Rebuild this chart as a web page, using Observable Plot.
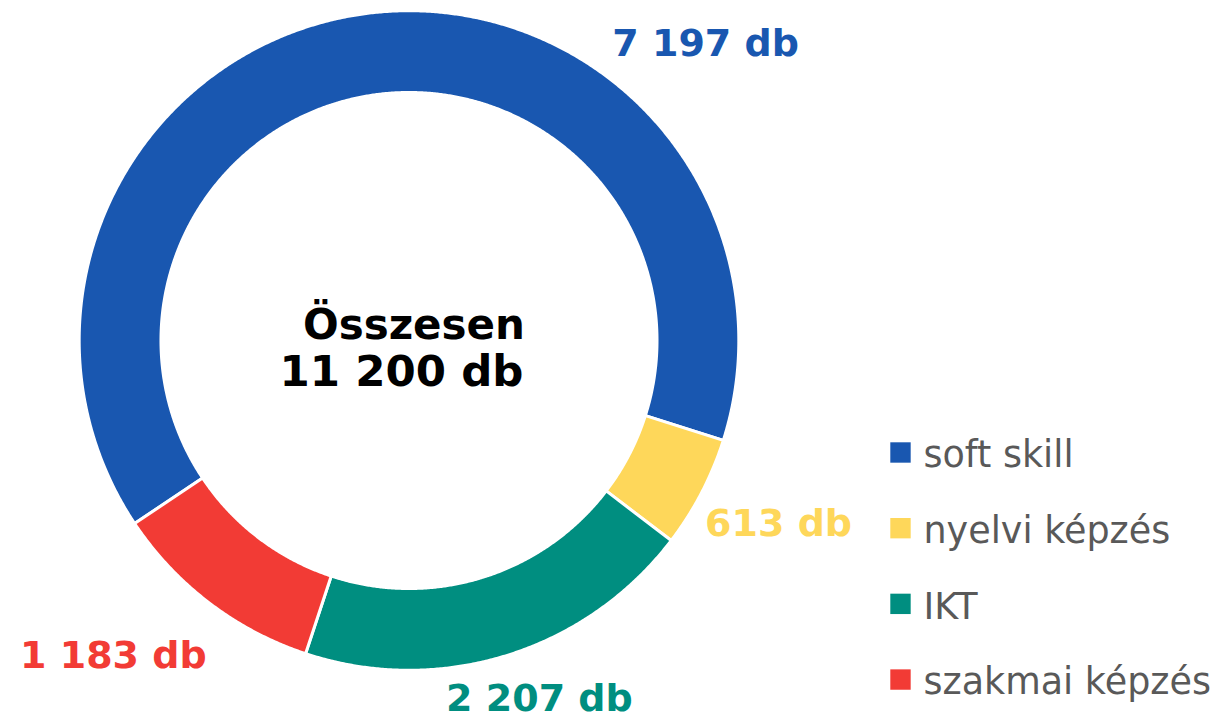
<!DOCTYPE html>
<html>
<head>
<meta charset="utf-8">
<script src="https://cdn.jsdelivr.net/npm/d3@7"></script>
<script src="https://cdn.jsdelivr.net/npm/@observablehq/plot@0.6"></script>
<style>
  html, body { margin: 0; padding: 0; background: #fff; }
  #chart svg { display: block; }
</style>
</head>
<body>
<div id="chart"></div>
<script>
// ---- Data ----
const categories = ["soft skill", "nyelvi képzés", "IKT", "szakmai képzés"];
const values = [7197, 613, 2207, 1183];
const colors = ["#1957B0", "#FED75A", "#008E80", "#F23B35"];
const unit = "db";
const totalLabel = "Összesen";

// ---- Layout (in donut-radius units; 1 unit = outer radius) ----
const startDeg = 236.3;          // first slice angle, clockwise from 12 o'clock
const rOuter = 1.004, rInner = 0.755;
// label anchor points per category (manually placed like in the original)
const labelPos = [
  [0.903, 0.904],
  [1.125, -0.557],
  [0.397, -1.092],
  [-0.900, -0.959]
];
const xDomain = [-1.2435, 2.4673];
const yDomain = [-1.1598, 1.0350];

const fmt = d3.formatLocale({thousands: " ", grouping: [3], decimal: ","}).format(",");
const total = d3.sum(values);

const start = startDeg * Math.PI / 180;
const arcs = d3.pie().sort(null).startAngle(start).endAngle(start + 2 * Math.PI)(values);

// polygon outline for each ring segment
const ringPts = [];
arcs.forEach((a, i) => {
  const n = Math.max(8, Math.ceil((a.endAngle - a.startAngle) / 0.005));
  for (let k = 0; k <= n; k++) {
    const t = a.startAngle + (a.endAngle - a.startAngle) * k / n;
    ringPts.push({cat: categories[i], x: rOuter * Math.sin(t), y: rOuter * Math.cos(t)});
  }
  for (let k = n; k >= 0; k--) {
    const t = a.startAngle + (a.endAngle - a.startAngle) * k / n;
    ringPts.push({cat: categories[i], x: rInner * Math.sin(t), y: rInner * Math.cos(t)});
  }
});

const valueLabels = categories.map((c, i) => ({
  cat: c, x: labelPos[i][0], y: labelPos[i][1], text: `${fmt(values[i])} ${unit}`
}));

const legendRows = categories.map((c, i) => ({cat: c, i}));
const legX = 1.4962, legTextX = 1.5662, legY0 = -0.3409, legStep = 0.2304;

const chart = Plot.plot({
  width: 1219,
  height: 721,
  margin: 0,
  style: {fontFamily: "DejaVu Sans, Verdana, sans-serif", background: "#fff"},
  x: {domain: xDomain, axis: null},
  y: {domain: yDomain, axis: null},
  color: {domain: categories, range: colors},
  marks: [
    Plot.line(ringPts, {
      x: "x", y: "y", z: "cat", fill: "cat",
      stroke: "white", strokeWidth: 3, curve: "linear-closed"
    }),
    Plot.text(valueLabels, {
      x: "x", y: "y", text: "text", fill: "cat",
      fontSize: 38, fontWeight: "bold", textAnchor: "middle"
    }),
    Plot.text([totalLabel], {
      x: [0.0152], y: [0.0457], text: d => d,
      fontSize: 42, fontWeight: "bold", fill: "black"
    }),
    Plot.text([`${fmt(total)} ${unit}`], {
      x: [-0.0228], y: [-0.0974], text: d => d,
      fontSize: 43.5, fontWeight: "bold", fill: "black"
    }),
    Plot.dot(legendRows, {
      x: () => legX, y: d => legY0 - d.i * legStep,
      symbol: "square", r: 11.5, fill: "cat", stroke: "none"
    }),
    Plot.text(legendRows, {
      x: () => legTextX, y: d => legY0 - d.i * legStep, text: "cat",
      textAnchor: "start", fontSize: 36.5, fill: "#595959", dy: 3
    })
  ]
});
document.getElementById("chart").appendChild(chart);
</script>
</body>
</html>
